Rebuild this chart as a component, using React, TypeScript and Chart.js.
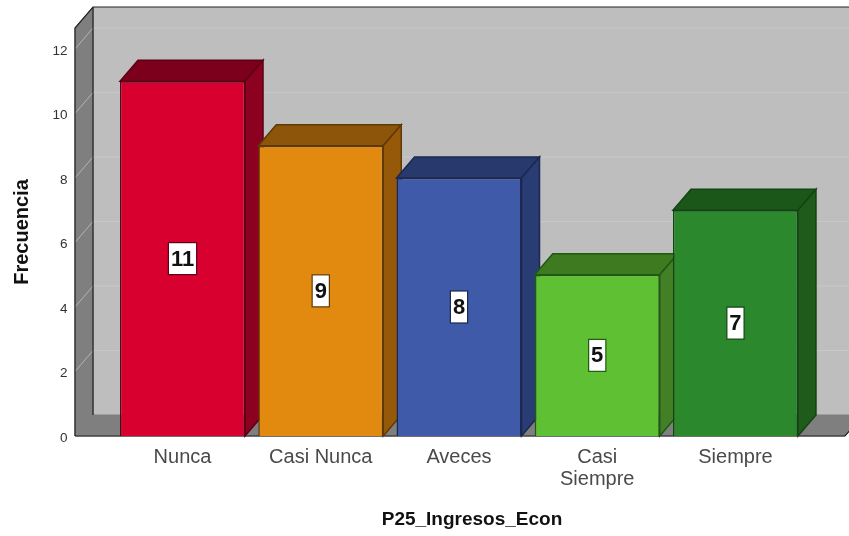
import React, { useEffect, useRef } from "react";
import { Chart, registerables } from "chart.js";

Chart.register(...registerables);

const categories: (string | string[])[] = ["Nunca", "Casi Nunca", "Aveces", ["Casi", "Siempre"], "Siempre"];
const counts = [11, 9, 8, 5, 7];
const frontColors = ["#d8002f", "#e28a10", "#3f5aa8", "#5fc033", "#2c882c"];
const topColors = ["#7c001b", "#8c5509", "#28396e", "#3d7a20", "#1b5719"];
const sideColors = ["#8c0020", "#96590a", "#2a3c74", "#437f26", "#1d5c1b"];
const borderColors = ["#5c0016", "#5e3a06", "#1b2850", "#1f5a12", "#124512"];
const yTitle = "Frecuencia";
const xTitle = "P25_Ingresos_Econ";

const DX = 18;
const DY = 21;
const WALL_FRONT_LEFT = 75;
const WALL_FRONT_RIGHT = 845;
const FONT = "'Liberation Sans', Arial, sans-serif";

const poly = (ctx: CanvasRenderingContext2D, pts: number[][], fill: string, stroke?: string, lw = 1) => {
  ctx.beginPath();
  pts.forEach((p, i) => (i ? ctx.lineTo(p[0], p[1]) : ctx.moveTo(p[0], p[1])));
  ctx.closePath();
  ctx.fillStyle = fill;
  ctx.fill();
  if (stroke) {
    ctx.strokeStyle = stroke;
    ctx.lineWidth = lw;
    ctx.stroke();
  }
};

const scene3d = {
  id: "scene3d",
  beforeDraw(chart: any) {
    // shift the bottom title's centring span to sit under the whole 3D floor
    chart.scales.x.left = chart.chartArea.left + 26;
  },
  beforeDatasetsDraw(chart: any) {
    const { ctx, chartArea, scales } = chart;
    scales.x.left = chartArea.left;
    const y = scales.y;
    const top = chartArea.top;
    const bot = chartArea.bottom;
    const L = WALL_FRONT_LEFT;
    const R = WALL_FRONT_RIGHT;
    ctx.save();
    poly(ctx, [[L + DX, top - DY], [R + DX, top - DY], [R + DX, bot - DY], [L + DX, bot - DY]], "#bebebe");
    poly(ctx, [[L, top], [L + DX, top - DY], [L + DX, bot - DY], [L, bot]], "#7f7f7f", "#7f7f7f");
    poly(ctx, [[L, bot], [L + DX, bot - DY], [R + DX, bot - DY], [R, bot]], "#7f7f7f", "#7f7f7f");
    ctx.lineWidth = 1;
    y.ticks.forEach((t: any) => {
      if (t.value === 0) return;
      const py = y.getPixelForValue(t.value);
      ctx.strokeStyle = "#b4b4b4";
      ctx.beginPath();
      ctx.moveTo(L, py);
      ctx.lineTo(L + DX, py - DY);
      ctx.stroke();
      ctx.strokeStyle = "#c9c9c9";
      ctx.beginPath();
      ctx.moveTo(L + DX, py - DY);
      ctx.lineTo(R + DX, py - DY);
      ctx.stroke();
    });
    ctx.strokeStyle = "#222222";
    ctx.lineWidth = 1.2;
    ctx.beginPath();
    ctx.moveTo(L, bot);
    ctx.lineTo(L, top);
    ctx.lineTo(L + DX, top - DY);
    ctx.lineTo(R + DX, top - DY);
    ctx.moveTo(L + DX, top - DY);
    ctx.lineTo(L + DX, bot - DY);
    ctx.moveTo(L, bot);
    ctx.lineTo(R, bot);
    ctx.lineTo(R + DX, bot - DY);
    ctx.stroke();
    const meta = chart.getDatasetMeta(0);
    meta.data.forEach((bar: any, i: number) => {
      const half = bar.width / 2;
      const l = bar.x - half;
      const r = bar.x + half;
      const t = bar.y;
      const b = bar.base;
      poly(ctx, [[l, t], [l + DX, t - DY], [r + DX, t - DY], [r, t]], topColors[i], borderColors[i], 1.5);
      poly(ctx, [[r, t], [r + DX, t - DY], [r + DX, b - DY], [r, b]], sideColors[i], borderColors[i], 1.5);
    });
    ctx.restore();
  },
  afterDatasetsDraw(chart: any) {
    const { ctx } = chart;
    const meta = chart.getDatasetMeta(0);
    ctx.save();
    ctx.font = `bold 22px ${FONT}`;
    ctx.textAlign = "center";
    ctx.textBaseline = "middle";
    meta.data.forEach((bar: any, i: number) => {
      const text = String(counts[i]);
      const w = ctx.measureText(text).width + 5;
      const h = 32;
      const cy = (bar.y + bar.base) / 2;
      ctx.fillStyle = "#ffffff";
      ctx.strokeStyle = borderColors[i];
      ctx.lineWidth = 1.2;
      ctx.fillRect(bar.x - w / 2, cy - h / 2, w, h);
      ctx.strokeRect(bar.x - w / 2, cy - h / 2, w, h);
      ctx.fillStyle = "#111111";
      ctx.fillText(text, bar.x, cy + 1);
    });
    ctx.restore();
  },
};

export default function App() {
  const ref = useRef<HTMLCanvasElement>(null);
  useEffect(() => {
    document.body.style.margin = "0";
    const chart = new Chart(ref.current!, {
      type: "bar",
      data: {
        labels: categories as any,
        datasets: [
          {
            label: yTitle,
            data: counts,
            backgroundColor: frontColors,
            borderColor: borderColors,
            borderWidth: 1.5,
            categoryPercentage: 1,
            barPercentage: 125 / 138.25,
          },
        ],
      },
      options: {
        responsive: false,
        animation: false,
        layout: { padding: { top: 28, right: 44.4, bottom: 0, left: 0 } },
        plugins: { legend: { display: false }, tooltip: { enabled: false } },
        scales: {
          x: {
            grid: { display: false, drawTicks: false },
            border: { display: false },
            ticks: {
              color: "#4a4a4a",
              font: { family: FONT, size: 20, lineHeight: 1.1 },
              padding: 10,
              maxRotation: 0,
              autoSkip: false,
            },
            title: {
              display: true,
              text: xTitle,
              color: "#111111",
              font: { family: FONT, size: 19, weight: "bold" },
              padding: { top: 0, bottom: 5 },
            },
            afterFit: (s: any) => {
              s.height = 100;
              s.paddingLeft = 0;
              s.paddingRight = 0;
            },
          },
          y: {
            min: 0,
            max: 12.65,
            grid: { display: false, drawTicks: false },
            border: { display: false },
            ticks: {
              stepSize: 2,
              includeBounds: false,
              color: "#333333",
              font: { family: FONT, size: 13.5 },
              padding: 46,
              labelOffset: 2,
            },
            title: {
              display: true,
              text: yTitle,
              color: "#111111",
              font: { family: FONT, size: 20, weight: "bold" },
              padding: { top: 10, bottom: 0 },
            },
            afterFit: (s: any) => {
              s.width = 113.4;
              s.paddingTop = 0;
              s.paddingBottom = 0;
            },
          },
        },
      },
      plugins: [scene3d],
    } as any);
    return () => chart.destroy();
  }, []);
  return <canvas ref={ref} width={849} height={536} style={{ display: "block" }} />;
}
